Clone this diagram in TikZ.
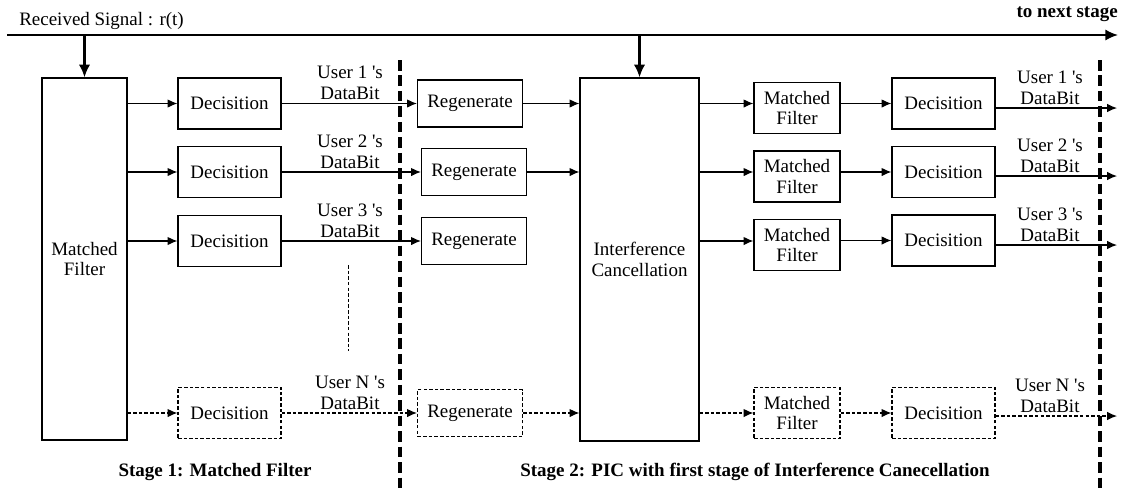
\documentclass[tikz,border=0pt]{standalone}
\usepackage{fontspec}
\setmainfont{Liberation Serif}
\usetikzlibrary{arrows.meta}
\newcommand{\diagfont}{\fontsize{13.5}{14.5}\selectfont}

\begin{document}
\begin{tikzpicture}[x=0.025cm,y=-0.025cm,font=\diagfont,
  blk/.style={draw,line width=0.8pt,align=center,inner sep=1pt},
  dashblk/.style={dash pattern=on 2.5pt off 1.5pt},
  decbox/.style={blk,minimum width=2.575cm,minimum height=1.275cm},
  regbox/.style={blk,minimum width=2.625cm,minimum height=1.175cm},
  mfbox/.style={blk,minimum width=2.15cm,minimum height=1.275cm},
  conn/.style={line width=0.8pt,-{Latex[length=7pt,width=6pt]}},
  bus/.style={line width=1.5pt,-{Latex[length=9pt,width=8pt]}},
  stageline/.style={line width=3pt,dash pattern=on 7.5pt off 3.5pt},
  userlbl/.style={align=center,anchor=south,inner sep=1pt}]
  \useasboundingbox (0,0) rectangle (1130,488);

  % received signal bus
  \coordinate (sigin) at (7,35);
  \coordinate (sigout) at (1118,35);
  \coordinate (tapone) at (84.5,35);
  \coordinate (taptwo) at (639.5,35);
  \node[anchor=west,inner sep=0pt] (rxlbl) at (19,21) {Received Signal : r(t)};
  \node[anchor=east,inner sep=0pt,font=\diagfont\bfseries] (nextlbl) at (1118,14) {to next stage};
  \draw[bus] (sigin) -- (sigout);

  % stage separators
  \draw[stageline] (400,60) -- (400,488);
  \draw[stageline] (1100,60) -- (1100,488);
  \draw[dashblk,line width=0.6pt] (348,265) -- (348,351);

  % stage 1
  \node[blk,minimum width=2.125cm,minimum height=9.05cm] (mfone) at (84.5,259) {Matched\\Filter};
  \node[decbox] (dec1) at (229.5,103.5) {Decisition};
  \node[decbox] (dec2) at (229.5,172) {Decisition};
  \node[decbox] (dec3) at (229.5,241) {Decisition};
  \node[decbox,dashblk] (decN) at (229.5,413) {Decisition};
  \draw[bus] (tapone) -- (mfone.north);

  \draw[conn] (mfone.east |- dec1) -- (dec1);
  \draw[conn] (mfone.east |- dec2) -- (dec2);
  \draw[conn] (mfone.east |- dec3) -- (dec3);
  \draw[conn,dashblk] (mfone.east |- decN) -- (decN);

  \node[userlbl] (usr1) at (350,101) {User 1 \textquotesingle s\\DataBit};
  \node[userlbl] (usr2) at (350,170) {User 2 \textquotesingle s\\DataBit};
  \node[userlbl] (usr3) at (350,239) {User 3 \textquotesingle s\\DataBit};
  \node[userlbl] (usrN) at (350,411) {User N \textquotesingle s\\DataBit};

  % stage 2
  \node[regbox] (reg1) at (470,103.5) {Regenerate};
  \node[regbox] (reg2) at (474,172) {Regenerate};
  \node[regbox] (reg3) at (474,241) {Regenerate};
  \node[regbox,dashblk] (regN) at (470,413) {Regenerate};
  \draw[conn] (dec1) -- (reg1);
  \draw[conn] (dec2) -- (reg2);
  \draw[conn] (dec3) -- (reg3);
  \draw[conn,dashblk] (decN) -- (regN);

  \node[blk,minimum width=2.975cm,minimum height=9.075cm] (ic) at (639.5,259.5) {Interference\\Cancellation};
  \draw[bus] (taptwo) -- (ic.north);
  \draw[conn] (reg1) -- (reg1 -| ic.west);
  \draw[conn] (reg2) -- (reg2 -| ic.west);
  \draw[conn,dashblk] (regN) -- (regN -| ic.west);

  \node[mfbox] (mftwo1) at (797,108) {Matched\\Filter};
  \node[mfbox] (mftwo2) at (797,176.5) {Matched\\Filter};
  \node[mfbox] (mftwo3) at (797,245) {Matched\\Filter};
  \node[mfbox,dashblk] (mftwoN) at (797,413) {Matched\\Filter};
  \draw[conn] (ic.east |- dec1) -- (mftwo1.west |- dec1);
  \draw[conn] (ic.east |- dec2) -- (mftwo2.west |- dec2);
  \draw[conn] (ic.east |- dec3) -- (mftwo3.west |- dec3);
  \draw[conn,dashblk] (ic.east |- decN) -- (mftwoN.west |- decN);

  \node[decbox] (dectwo1) at (943.5,103.5) {Decisition};
  \node[decbox] (dectwo2) at (943.5,172) {Decisition};
  \node[decbox] (dectwo3) at (943.5,240.5) {Decisition};
  \node[decbox,dashblk] (dectwoN) at (943.5,413) {Decisition};
  \draw[conn] (mftwo1.east |- dectwo1) -- (dectwo1);
  \draw[conn] (mftwo2.east |- dectwo2) -- (dectwo2);
  \draw[conn] (mftwo3.east |- dectwo3) -- (dectwo3);
  \draw[conn,dashblk] (mftwoN.east |- dectwoN) -- (dectwoN);

  \coordinate (out1) at (1117,108);
  \coordinate (out2) at (1117,176);
  \coordinate (out3) at (1117,245);
  \coordinate (outN) at (1117,416);
  \draw[conn] (dectwo1.east |- out1) -- (out1);
  \draw[conn] (dectwo2.east |- out2) -- (out2);
  \draw[conn] (dectwo3.east |- out3) -- (out3);
  \draw[conn,dashblk] (dectwoN.east |- outN) -- (outN);

  \node[userlbl] (usrtwo1) at (1050,106) {User 1 \textquotesingle s\\DataBit};
  \node[userlbl] (usrtwo2) at (1050,174) {User 2 \textquotesingle s\\DataBit};
  \node[userlbl] (usrtwo3) at (1050,243) {User 3 \textquotesingle s\\DataBit};
  \node[userlbl] (usrtwoN) at (1050,414) {User N \textquotesingle s\\DataBit};

  % stage captions
  \node[font=\diagfont\bfseries] (capone) at (215,472) {Stage 1: Matched Filter};
  \node[font=\diagfont\bfseries] (captwo) at (755,472) {Stage 2: PIC with first stage of Interference Canecellation};
\end{tikzpicture}
\end{document}
